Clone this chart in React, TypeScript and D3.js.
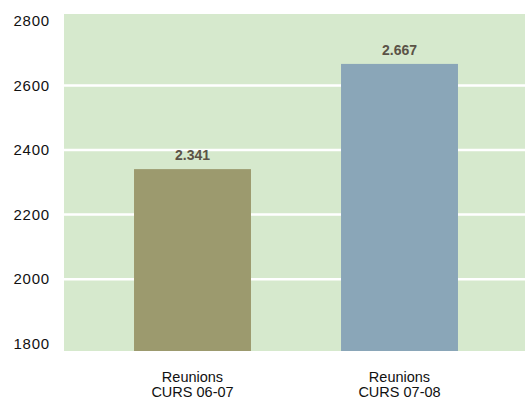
import React from "react";
import * as d3 from "d3";

const categories = [["Reunions", "CURS 06-07"], ["Reunions", "CURS 07-08"]];
const values = [2341, 2667];
const valueLabels = ["2.341", "2.667"];
const barColors = ["#9c9a6e", "#8aa6b8"];
const yTicks = [1800, 2000, 2200, 2400, 2600, 2800];
const gridTicks = [2000, 2200, 2400, 2600];

export default function App() {
  const W = 525, H = 400;
  const plot = { left: 64, right: 525, top: 14, bottom: 351 };
  const y = d3.scaleLinear().domain([1800, 2800]).range([343.7, 21]);
  const keys = categories.map((c) => c.join(" "));
  const x = d3.scaleBand().domain(keys).range([89, 503]).paddingInner(0.435).paddingOuter(0.2175);
  const font = "'Liberation Sans', Arial, Helvetica, sans-serif";
  return (
    <svg width={W} height={H} style={{ position: "absolute", left: 0, top: 0 }} fontFamily={font}>
      <rect x={plot.left} y={plot.top} width={plot.right - plot.left} height={plot.bottom - plot.top} fill="#d6e9cd" />
      {gridTicks.map((t) => (
        <line key={t} x1={plot.left} x2={plot.right} y1={y(t)} y2={y(t)} stroke="#ffffff" strokeWidth={2.5} />
      ))}
      {yTicks.map((t) => (
        <text key={t} x={50} y={y(t) + 5} textAnchor="end" fontSize={15} letterSpacing={0.8} fill="#111">
          {t}
        </text>
      ))}
      {values.map((v, i) => {
        const bx = x(keys[i])!;
        const bw = x.bandwidth();
        return (
          <g key={i}>
            <rect x={bx} y={y(v)} width={bw} height={plot.bottom - y(v)} fill={barColors[i]} />
            <text x={bx + bw / 2} y={y(v) - 9} textAnchor="middle" fontSize={14} fontWeight="bold" fill="#5b5347">
              {valueLabels[i]}
            </text>
            <text x={bx + bw / 2} textAnchor="middle" fontSize={14.5} fill="#111">
              <tspan x={bx + bw / 2} y={382}>{categories[i][0]}</tspan>
              <tspan x={bx + bw / 2} y={396.5}>{categories[i][1]}</tspan>
            </text>
          </g>
        );
      })}
    </svg>
  );
}
